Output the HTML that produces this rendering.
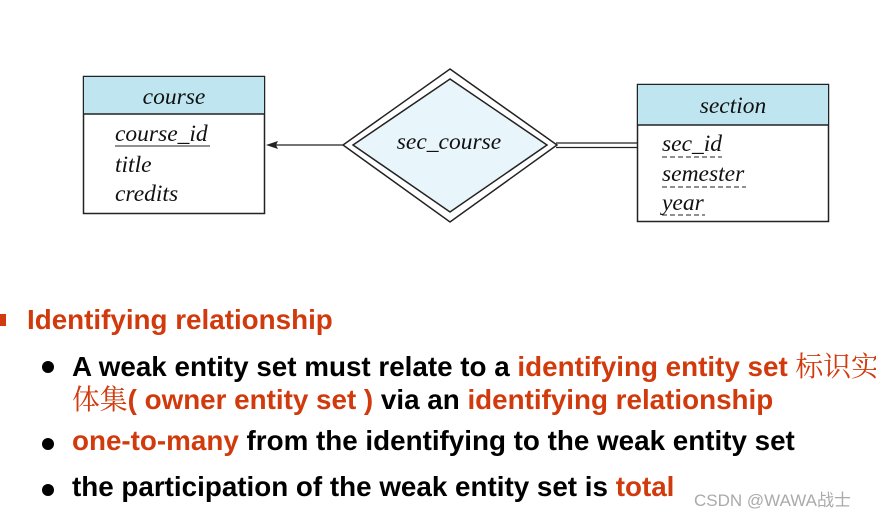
<!DOCTYPE html>
<html><head><meta charset="utf-8"><style>
body{margin:0;width:876px;height:516px;background:#fff;position:relative;overflow:hidden;font-family:"Liberation Sans","Noto Sans CJK SC",sans-serif}
.t{position:absolute;white-space:nowrap;font-weight:bold;font-size:27.8px;color:#000;line-height:30px}
.r{color:#d13a0c}
.cjk{font-weight:normal;font-family:"Noto Serif CJK SC","Noto Sans CJK SC",serif}
.dot{position:absolute;width:12px;height:12px;border-radius:50%;background:#000}
.s{font-family:"Liberation Serif",serif;font-style:italic;font-size:23.5px;fill:#111}
</style></head><body>
<svg width="876" height="260" style="position:absolute;left:0;top:0">
<rect x="83.5" y="76.5" width="181" height="137" fill="#fff" stroke="#222" stroke-width="1.5"/>
<rect x="84" y="77" width="180" height="37" fill="#bfe6f0"/>
<line x1="83" y1="114" x2="264" y2="114" stroke="#222" stroke-width="1.5"/>
<text x="174" y="104" text-anchor="middle" class="s">course</text>
<text x="115" y="141" class="s">course_id</text>
<line x1="115" y1="146" x2="210" y2="146" stroke="#222"/>
<text x="115" y="172" class="s">title</text>
<text x="115" y="201" class="s">credits</text>
<rect x="637.5" y="84.5" width="191" height="137" fill="#fff" stroke="#222" stroke-width="1.5"/>
<rect x="638" y="85" width="190" height="40" fill="#bfe6f0"/>
<line x1="637" y1="125" x2="829" y2="125" stroke="#222" stroke-width="1.5"/>
<text x="733" y="113" text-anchor="middle" class="s">section</text>
<text x="662" y="151" class="s">sec_id</text>
<line x1="662" y1="157" x2="722" y2="157" stroke="#222" stroke-dasharray="5,3"/>
<text x="662" y="181" class="s">semester</text>
<line x1="662" y1="187" x2="746" y2="187" stroke="#222" stroke-dasharray="5,3"/>
<text x="662" y="210" class="s">year</text>
<line x1="662" y1="215" x2="705" y2="215" stroke="#222" stroke-dasharray="5,3"/>
<polygon points="450,69 557,145 450,222 343,145" fill="#fff" stroke="#222" stroke-width="1.5"/>
<polygon points="450,79 547,145 450,212 353,145" fill="#e8f5fa" stroke="#222" stroke-width="1.5"/>
<text x="449" y="149" text-anchor="middle" class="s">sec_course</text>
<line x1="343" y1="145" x2="272" y2="145" stroke="#222" stroke-width="1.2"/>
<polygon points="266,145 278,141 276,145 278,149" fill="#222"/>
<line x1="556" y1="143" x2="637" y2="143" stroke="#222" stroke-width="1.2"/>
<line x1="556" y1="147.5" x2="637" y2="147.5" stroke="#222" stroke-width="1.2"/>
</svg>
<div style="position:absolute;left:0;top:314px;width:6px;height:12px;background:#d13a0c"></div>
<div class="t r" style="left:27px;top:305px">Identifying relationship</div>
<div class="dot" style="left:42px;top:361px"></div>
<div class="t" style="left:72px;top:349px">A weak entity set must relate to a <span class="r">identifying entity set <span class="cjk">标识实</span></span></div>
<div class="t r" style="left:72px;top:382px"><span class="cjk">体集</span>( owner entity set ) <span style="color:#000">via an</span> identifying relationship</div>
<div class="dot" style="left:42px;top:438px"></div>
<div class="t" style="left:72px;top:426px"><span class="r">one-to-many</span> from the identifying to the weak entity set</div>
<div class="dot" style="left:42px;top:484px"></div>
<div class="t" style="left:72px;top:472px">the participation of the weak entity set is <span class="r">total</span></div>
<div style="position:absolute;left:694px;top:486px;font-size:17px;color:#aaa;white-space:nowrap">CSDN @WAWA战士</div>
</body></html>
